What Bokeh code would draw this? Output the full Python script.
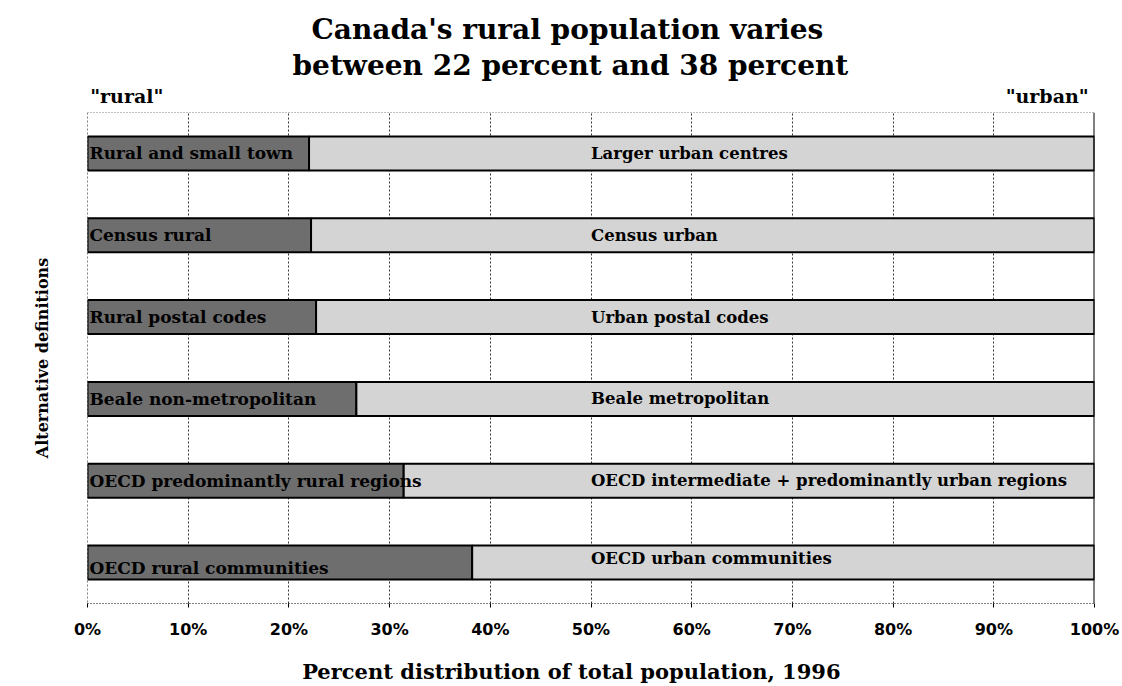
from bokeh.plotting import figure
from bokeh.models import (ColumnDataSource, Span, FixedTicker, CustomJSTickFormatter,
                          Title, LinearAxis)
from bokeh.core.properties import value
from bokeh.embed import file_html
from bokeh.resources import INLINE

# ---- data ----
definitions = ["Rural and small town", "Census rural", "Rural postal codes",
               "Beale non-metropolitan", "OECD predominantly rural regions",
               "OECD rural communities"]
rural_labels = ["Rural and small town", "Census rural", "Rural postal codes",
                "Beale non-metropolitan", "OECD predominantly rural regions",
                "OECD rural communities"]
urban_labels = ["Larger urban centres", "Census urban", "Urban postal codes",
                "Beale metropolitan", "OECD intermediate + predominantly urban regions",
                "OECD urban communities"]
rural_pct = [22.0, 22.2, 22.7, 26.7, 31.4, 38.2]
urban_pct = [100 - r for r in rural_pct]
x_ticks = [0, 10, 20, 30, 40, 50, 60, 70, 80, 90, 100]
x_title = "Percent distribution of total population, 1996"

SERIF = "DejaVu Serif"
SANS = "DejaVu Sans"

factors = list(reversed(definitions))
p = figure(width=1122, height=686, y_range=factors, x_range=(0, 100),
           output_backend="svg", toolbar_location=None,
           min_border_left=87, min_border_right=28, min_border_top=112,
           min_border_bottom=83)
p.y_range.range_padding = 0
p.outline_line_color = None
p.background_fill_color = "white"

src = ColumnDataSource(dict(cat=definitions, rural=rural_pct, urban=urban_pct,
                            rl=rural_labels, ul=urban_labels,
                            rl_off=[0, 0, 0, 0, 0, 5], ul_off=[0, 0, 0, 0, 0, -4],
                            zero=[0] * 6, half=[50] * 6))

p.hbar_stack(["rural", "urban"], y="cat", height=0.415, source=src,
             color=["#6e6e6e", "#d4d4d4"], line_color="black", line_width=2)

p.text(x="zero", y="cat", text="rl", source=src, x_offset=2, y_offset="rl_off",
       text_font=value(SERIF), text_font_style="bold", text_font_size="17px",
       text_baseline="middle", text_align="left", text_color="black")
p.text(x="half", y="cat", text="ul", source=src, x_offset=0, y_offset="ul_off",
       text_font=value(SERIF), text_font_style="bold", text_font_size="16.5px",
       text_baseline="middle", text_align="left", text_color="black")

# grid & borders
p.xgrid.ticker = FixedTicker(ticks=x_ticks[1:-1])
p.xgrid.grid_line_color = "#333333"
p.xgrid.grid_line_dash = "2 2"
p.xgrid.grid_line_width = 1
p.ygrid.grid_line_color = None

p.add_layout(Span(location=6, dimension="width", line_color="black",
                  line_dash="1 2", line_width=1))
p.add_layout(Span(location=0, dimension="height", line_color="black",
                  line_dash="2 2", line_width=1))
p.add_layout(Span(location=100, dimension="height", line_color="black",
                  line_width=2))

# x axis
xa = p.xaxis[0]
xa.ticker = FixedTicker(ticks=x_ticks)
xa.formatter = CustomJSTickFormatter(code="return tick.toFixed(0) + '%';")
xa.major_label_text_font = SANS
xa.major_label_text_font_style = "bold"
xa.major_label_text_font_size = "16px"
xa.major_label_text_color = "black"
xa.major_label_standoff = 12
xa.major_tick_out = 4
xa.major_tick_in = 0
xa.minor_tick_line_color = None
xa.axis_line_color = "black"
xa.axis_line_dash = "1 2"
xa.major_tick_line_color = "black"

# x-axis title, as a second (label-only) axis below the tick labels
title_axis = LinearAxis(ticker=FixedTicker(ticks=[48.05]),
                        major_label_overrides={48.05: x_title},
                        axis_line_color=None, major_tick_line_color=None,
                        minor_tick_line_color=None, major_label_standoff=11,
                        major_label_text_font=SERIF, major_label_text_font_style="bold",
                        major_label_text_font_size="21px", major_label_text_color="black")
p.add_layout(title_axis, "below")

# y axis: only its title
ya = p.yaxis[0]
ya.major_label_text_font_size = "0px"
ya.major_label_text_color = None
ya.major_tick_line_color = None
ya.minor_tick_line_color = None
ya.axis_line_color = None
ya.major_label_standoff = 0
ya.axis_label = "Alternative definitions"
ya.axis_label_text_font = SERIF
ya.axis_label_text_font_style = "bold"
ya.axis_label_text_font_size = "16px"
ya.axis_label_text_color = "black"
ya.axis_label_standoff = 30

# "rural" / "urban" end labels via a top axis
end_axis = LinearAxis(ticker=FixedTicker(ticks=[3.9, 95.3]),
                      major_label_overrides={3.9: '"rural"', 95.3: '"urban"'},
                      axis_line_color=None, major_tick_line_color=None,
                      minor_tick_line_color=None, major_label_standoff=0,
                      major_label_text_font=SERIF, major_label_text_font_style="bold",
                      major_label_text_font_size="19px", major_label_text_color="black")
p.add_layout(end_axis, "above")

# titles (added outward from the frame)
for line, off, so in [("between 22 percent and 38 percent", 205, 0),
                      ("Canada's rural population varies", 224, 1)]:
    p.add_layout(Title(text=line, align="left", offset=off, text_font=SERIF,
                       text_font_style="bold", text_font_size="28px",
                       text_color="black", standoff=so), "above")

open("out.html", "w").write(file_html(p, INLINE))
